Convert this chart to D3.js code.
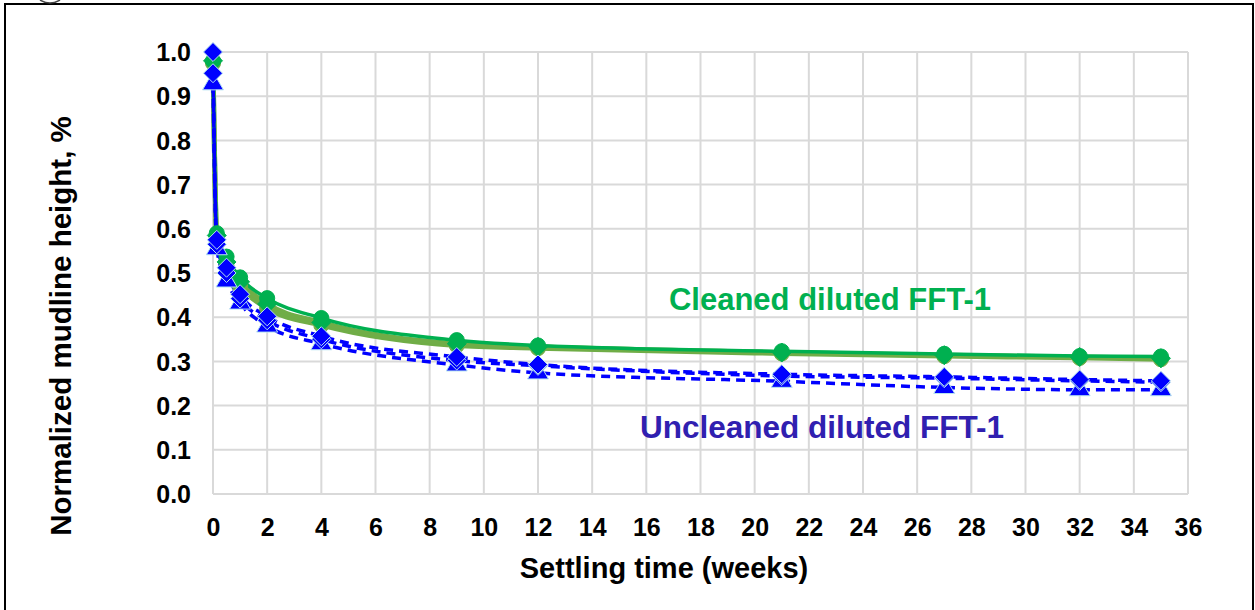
<!DOCTYPE html>
<html>
<head>
<meta charset="utf-8">
<script src="https://cdn.jsdelivr.net/npm/d3@7"></script>
<style>
  html, body { margin: 0; padding: 0; background: #fff; }
  svg { display: block; font-family: "Liberation Sans", Arial, sans-serif; }
</style>
</head>
<body>
<svg id="chart" width="1255" height="610"></svg>
<script>
// Settling time in weeks for every measurement
const weeks = [0, 0.14, 0.5, 1, 2, 4, 9, 12, 21, 27, 32, 35];

// Cleaned diluted FFT-1 replicates
const cleanedA = [0.980, 0.590, 0.537, 0.490, 0.443, 0.398, 0.348, 0.336, 0.323, 0.317, 0.312, 0.311];
const cleanedB = [0.980, 0.585, 0.525, 0.480, 0.430, 0.388, 0.340, 0.333, 0.320, 0.314, 0.310, 0.307];
const cleanedC = [0.975, 0.580, 0.515, 0.470, 0.420, 0.382, 0.336, 0.330, 0.318, 0.312, 0.308, 0.305];

// Uncleaned diluted FFT-1 replicates
const uncleanedA = [1.000, 0.575, 0.512, 0.452, 0.402, 0.357, 0.310, 0.293, 0.271, 0.265, 0.259, 0.256];
const uncleanedB = [0.952, 0.565, 0.500, 0.442, 0.393, 0.350, 0.302, 0.290, 0.267, 0.262, 0.256, 0.253];
const uncleanedC = [0.928, 0.555, 0.482, 0.432, 0.380, 0.340, 0.292, 0.274, 0.255, 0.241, 0.236, 0.236];

const xTicks = d3.range(0, 37, 2);
const yTicks = d3.range(0, 11).map(i => i / 10);

const series = [
  { name: "Cleaned 3", values: cleanedC, color: "#70AD47", width: 5, dash: null, marker: "circle", mcolor: "#70AD47" },
  { name: "Cleaned 2", values: cleanedB, color: "#70AD47", width: 5, dash: null, marker: "diamond", mcolor: "#00B050" },
  { name: "Cleaned 1", values: cleanedA, color: "#00B050", width: 3.5, dash: null, marker: "circle", mcolor: "#00B050" },
  { name: "Uncleaned 3", values: uncleanedC, color: "#0000FF", width: 3.5, dash: "9,6", marker: "triangle", mcolor: "#0000FF" },
  { name: "Uncleaned 2", values: uncleanedB, color: "#0000FF", width: 3.5, dash: "9,6", marker: "diamond", mcolor: "#0000FF" },
  { name: "Uncleaned 1", values: uncleanedA, color: "#0000FF", width: 3.5, dash: "9,6", marker: "diamond", mcolor: "#0000FF" }
];

const svg = d3.select("#chart");
const plotLeft = 213, plotRight = 1188, plotTop = 52, plotBottom = 494;

const x = d3.scaleLinear().domain([0, 36]).range([plotLeft, plotRight]);
const y = d3.scaleLinear().domain([0, 1]).range([plotBottom, plotTop]);

// outer frame
svg.append("rect")
  .attr("x", 5).attr("y", 4).attr("width", 1248).attr("height", 620)
  .attr("fill", "none").attr("stroke", "#000").attr("stroke-width", 2);

// small glyph peeking above the frame
svg.append("path")
  .attr("d", "M40,0 Q50,6 60,0")
  .attr("fill", "none").attr("stroke", "#444").attr("stroke-width", 1.5);

// gridlines
const grid = svg.append("g");
grid.selectAll("line.v").data(xTicks).join("line")
  .attr("class", "v")
  .attr("x1", d => x(d)).attr("x2", d => x(d))
  .attr("y1", plotTop).attr("y2", plotBottom)
  .attr("stroke", "#d9d9d9").attr("stroke-width", 2);
grid.selectAll("line.h").data(yTicks).join("line")
  .attr("class", "h")
  .attr("x1", plotLeft).attr("x2", plotRight)
  .attr("y1", d => y(d)).attr("y2", d => y(d))
  .attr("stroke", "#d9d9d9").attr("stroke-width", 2);

// axes
const xAxis = d3.axisBottom(x).tickValues(xTicks).tickSize(0).tickPadding(24).tickFormat(d3.format("d"));
const yAxis = d3.axisLeft(y).tickValues(yTicks).tickSize(0).tickPadding(22).tickFormat(d3.format(".1f"));

const gx = svg.append("g").attr("transform", `translate(0,${plotBottom})`).call(xAxis);
const gy = svg.append("g").attr("transform", `translate(${plotLeft},0)`).call(yAxis);
[gx, gy].forEach(g => {
  g.select(".domain").remove();
  g.selectAll("text")
    .attr("fill", "#000")
    .style("font-size", "25px")
    .style("font-weight", "bold")
    .style("font-family", "'Liberation Sans', Arial, sans-serif");
});
gx.selectAll("text").attr("dy", "0.71em");
gy.selectAll("text").attr("dy", "0.35em");

// lines
const line = d3.line()
  .x((d, i) => x(weeks[i]))
  .y(d => y(d))
  .curve(d3.curveMonotoneX);

const plot = svg.append("g");
series.forEach(s => {
  plot.append("path")
    .datum(s.values)
    .attr("d", line)
    .attr("fill", "none")
    .attr("stroke", s.color)
    .attr("stroke-width", s.width)
    .attr("stroke-dasharray", s.dash)
    .attr("stroke-linecap", s.dash ? "butt" : "round");
});

// markers (square-rotated diamonds, like spreadsheet markers)
const shapes = {
  circle: d3.symbol().type(d3.symbolCircle).size(180),
  diamond: d3.symbol().type(d3.symbolDiamond2).size(230),
  triangle: d3.symbol().type(d3.symbolTriangle).size(190)
};
series.forEach(s => {
  plot.append("g").selectAll("path")
    .data(s.values)
    .join("path")
    .attr("transform", (d, i) => `translate(${x(weeks[i])},${y(d)})`)
    .attr("d", shapes[s.marker]())
    .attr("fill", s.mcolor)
    .attr("stroke", s.mcolor === "#0000FF" ? "#b8e4f0" : s.mcolor)
    .attr("stroke-width", 1);
});

// series annotations
svg.append("text")
  .attr("x", 830).attr("y", 310)
  .attr("text-anchor", "middle")
  .attr("fill", "#00B050")
  .style("font-size", "31px").style("font-weight", "bold")
  .text("Cleaned diluted FFT-1");
svg.append("text")
  .attr("x", 822).attr("y", 438)
  .attr("text-anchor", "middle")
  .attr("fill", "#3020B0")
  .style("font-size", "31.5px").style("font-weight", "bold")
  .text("Uncleaned diluted FFT-1");

// axis titles
svg.append("text")
  .attr("x", 664).attr("y", 578)
  .attr("text-anchor", "middle")
  .style("font-size", "29px").style("font-weight", "bold")
  .text("Settling time (weeks)");
svg.append("text")
  .attr("transform", "translate(71,326) rotate(-90)")
  .attr("text-anchor", "middle")
  .style("font-size", "29.5px").style("font-weight", "bold")
  .text("Normalized mudline height, %");
</script>
</body>
</html>
